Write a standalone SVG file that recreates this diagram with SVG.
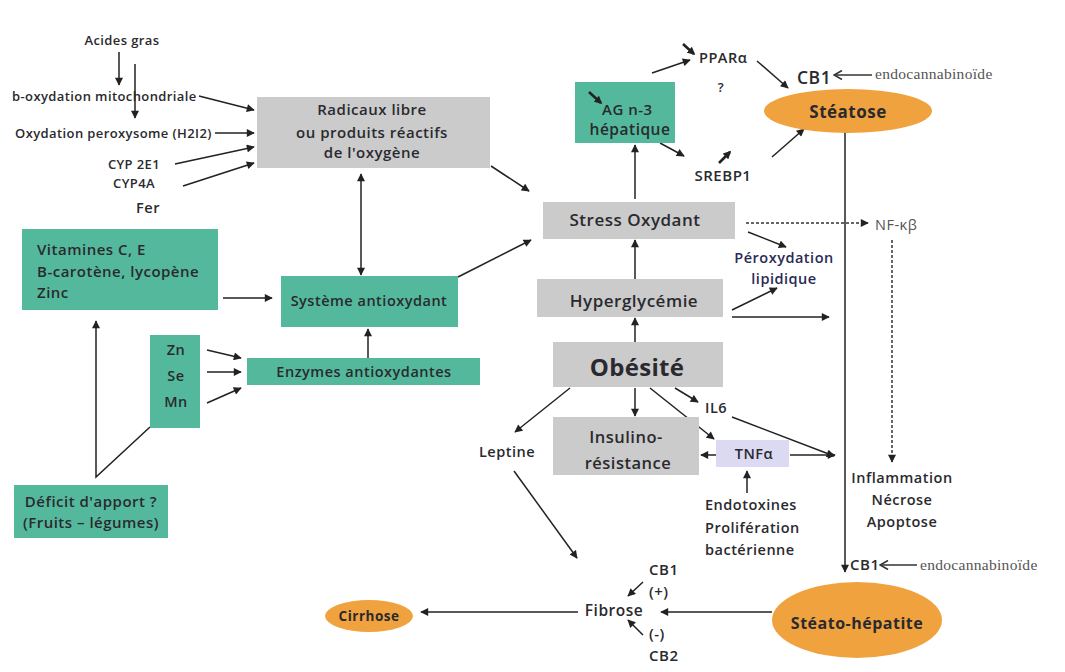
<svg xmlns="http://www.w3.org/2000/svg" width="1065" height="672" viewBox="0 0 1065 672">
<defs>
<marker id="ah" viewBox="0 0 10 10" refX="9" refY="5" markerWidth="9" markerHeight="8" markerUnits="userSpaceOnUse" orient="auto">
<path d="M0,0 L10,5 L0,10 Z" fill="#222"/>
</marker>
<marker id="ahs" viewBox="0 0 10 10" refX="9" refY="5" markerWidth="9" markerHeight="8" markerUnits="userSpaceOnUse" orient="auto-start-reverse">
<path d="M0,0 L10,5 L0,10 Z" fill="#222"/>
</marker>
<marker id="aho" viewBox="0 0 10 10" refX="9" refY="5" markerWidth="10" markerHeight="10" markerUnits="userSpaceOnUse" orient="auto">
<path d="M1,0.5 L9,5 L1,9.5" fill="none" stroke="#333" stroke-width="1.6"/>
</marker>
<marker id="ahb" viewBox="0 0 10 10" refX="8" refY="5" markerWidth="8" markerHeight="8" markerUnits="userSpaceOnUse" orient="auto">
<path d="M0,0 L10,5 L0,10 Z" fill="#222"/>
</marker>
</defs>
<style>
text{font-family:"Open Sans","Liberation Sans",sans-serif;font-weight:600;font-size:14.5px;letter-spacing:0.5px;fill:#2a2a2e;}
.c{text-anchor:middle;}
.s{font-size:13px;letter-spacing:0.4px;}
.m{font-size:15px;}
.big{font-size:17px;}
.serif{font-family:"Liberation Serif","DejaVu Serif",serif;font-weight:400;font-size:15.5px;letter-spacing:0.3px;fill:#555;}
.teal{fill:#54b99c;}
.gray{fill:#cbcbcc;}
.orange{fill:#f0a23f;}
.lav{fill:#dcd9f3;}
.ln{stroke:#222;stroke-width:1.5;fill:none;marker-end:url(#ah);}
.pl{stroke:#333;stroke-width:1.5;fill:none;}
.dash{stroke:#333;stroke-width:1.5;fill:none;stroke-dasharray:3,2;marker-end:url(#ah);}
.sym{stroke:#222;stroke-width:2.6;fill:none;marker-end:url(#ahb);}
</style>
<rect width="1065" height="672" fill="#ffffff"/>

<g id="connectors">
<line class="ln" x1="119" y1="52" x2="119" y2="85"/>
<line class="ln" x1="135" y1="64" x2="135" y2="118"/>
<line class="ln" x1="199" y1="96" x2="254" y2="110"/>
<line class="ln" x1="215" y1="133" x2="254" y2="133"/>
<line class="ln" x1="175" y1="164" x2="254" y2="147"/>
<line class="ln" x1="183" y1="186" x2="254" y2="163"/>
<line class="ln" x1="491" y1="166" x2="529" y2="191"/>
<line class="ln" x1="361" y1="174" x2="361" y2="275" style="marker-start:url(#ahs)"/>
<line class="ln" x1="223" y1="298" x2="272" y2="298"/>
<line class="ln" x1="458" y1="277" x2="531" y2="240"/>
<line class="ln" x1="368" y1="358" x2="368" y2="329"/>
<line class="ln" x1="207" y1="350" x2="241" y2="358"/>
<line class="ln" x1="207" y1="372" x2="241" y2="372"/>
<line class="ln" x1="207" y1="403" x2="241" y2="388"/>
<polyline class="ln" points="150,427 96,477 96,321"/>
<line class="ln" x1="635" y1="199" x2="635" y2="145"/>
<line class="ln" x1="652" y1="73" x2="690" y2="60"/>
<line class="ln" x1="757" y1="61" x2="788" y2="88"/>
<line class="pl" x1="872" y1="75" x2="834" y2="75" style="marker-end:url(#aho)"/>
<line class="ln" x1="660" y1="143" x2="684" y2="156"/>
<line class="ln" x1="772" y1="157" x2="804" y2="129"/>
<line class="ln" x1="845" y1="132" x2="845" y2="572"/>
<line class="dash" x1="746" y1="223" x2="868" y2="223"/>
<line class="ln" x1="748" y1="232" x2="786" y2="247"/>
<line class="ln" x1="732" y1="310" x2="777" y2="288"/>
<line class="ln" x1="732" y1="317" x2="829" y2="317"/>
<line class="dash" x1="892" y1="240" x2="892" y2="462"/>
<line class="ln" x1="635" y1="279" x2="635" y2="240"/>
<line class="ln" x1="635" y1="342" x2="635" y2="318"/>
<line class="ln" x1="635" y1="388" x2="635" y2="416"/>
<line class="ln" x1="570" y1="388" x2="515" y2="432"/>
<line class="ln" x1="650" y1="388" x2="714" y2="439"/>
<line class="ln" x1="675" y1="388" x2="698" y2="402"/>
<line class="ln" x1="732" y1="417" x2="834" y2="456"/>
<line class="ln" x1="716" y1="455" x2="701" y2="455"/>
<line class="ln" x1="790" y1="455" x2="835" y2="455"/>
<line class="ln" x1="747" y1="493" x2="747" y2="471"/>
<line class="ln" x1="514" y1="471" x2="577" y2="558"/>
<line class="ln" x1="772" y1="612" x2="661" y2="612"/>
<line class="ln" x1="578" y1="612" x2="421" y2="612"/>
<line class="ln" x1="643" y1="582" x2="628" y2="596"/>
<line class="ln" x1="643" y1="635" x2="628" y2="620"/>
<line class="pl" x1="917" y1="565" x2="880" y2="565" style="marker-end:url(#aho)"/>
</g>

<g id="acides-gras"><text class="c s" x="122" y="44.5">Acides gras</text></g>
<g id="b-oxydation"><text class="s" x="12" y="100.5">b-oxydation mitochondriale</text></g>
<g id="oxydation-peroxysome"><text class="s" x="15" y="137.5">Oxydation peroxysome (H2I2)</text></g>
<g id="cyp"><text class="c s" x="134" y="168.5">CYP 2E1</text><text class="c s" x="134" y="187.5">CYP4A</text></g>
<g id="fer"><text class="c" x="148" y="213">Fer</text></g>

<g id="radicaux">
<rect class="gray" x="257" y="97" width="233" height="71"/>
<text class="c m" x="372" y="115">Radicaux libre</text>
<text class="c m" x="372" y="138">ou produits réactifs</text>
<text class="c m" x="372" y="158">de l'oxygène</text>
</g>

<g id="vitamines">
<rect class="teal" x="22" y="229" width="196" height="81"/>
<text class="m" x="37" y="255">Vitamines C, E</text>
<text class="m" x="37" y="277">B-carotène, lycopène</text>
<text class="m" x="37" y="298">Zinc</text>
</g>

<g id="systeme">
<rect class="teal" x="281" y="276" width="177" height="51"/>
<text class="c" x="369" y="306">Système antioxydant</text>
</g>

<g id="enzymes">
<rect class="teal" x="247" y="358" width="233" height="27"/>
<text class="c" x="364" y="377">Enzymes antioxydantes</text>
</g>

<g id="oligo">
<rect class="teal" x="150" y="335" width="50" height="93"/>
<text class="c" x="176" y="355">Zn</text>
<text class="c" x="176" y="381">Se</text>
<text class="c" x="176" y="407">Mn</text>
</g>

<g id="deficit">
<rect class="teal" x="14" y="485" width="154" height="53"/>
<text class="c m" x="91" y="507">Déficit d'apport ?</text>
<text class="c m" x="91" y="528">(Fruits – légumes)</text>
</g>

<g id="ag-n3">
<rect class="teal" x="575" y="82" width="100" height="61"/>
<line class="sym" x1="589" y1="92" x2="601" y2="103"/>
<text class="m" x="602" y="115">AG n-3</text>
<text class="c" x="630" y="135" style="font-size:15.5px">hépatique</text>
</g>

<g id="ppar">
<line class="sym" x1="683" y1="44" x2="694" y2="54"/>
<text x="699" y="63">PPARα</text>
</g>
<g id="question"><text class="c s" x="721" y="92">?</text></g>
<g id="srebp1">
<line class="sym" x1="719" y1="163" x2="730" y2="152"/>
<text class="c m" x="723" y="181">SREBP1</text>
</g>

<g id="cb1-top"><text x="797" y="84" style="font-size:17.5px">CB1</text></g>
<g id="endocannabinoide-top"><text class="serif" x="875" y="79">endocannabinoïde</text></g>

<g id="steatose">
<ellipse class="orange" cx="848" cy="111" rx="84" ry="22"/>
<text class="c" x="848" y="118" style="font-size:17px;font-weight:700">Stéatose</text>
</g>

<g id="stress">
<rect class="gray" x="543" y="202" width="192" height="37"/>
<text class="c big" x="635" y="226">Stress Oxydant</text>
</g>

<g id="nfkb"><text x="875" y="230" style="font-weight:400;fill:#555">NF-κβ</text></g>

<g id="peroxydation">
<text class="c" x="784" y="263" style="fill:#2a2a55">Péroxydation</text>
<text class="c" x="784" y="284" style="fill:#2a2a55">lipidique</text>
</g>

<g id="hyperglycemie">
<rect class="gray" x="537" y="279" width="186" height="38"/>
<text class="c big" x="634" y="307">Hyperglycémie</text>
</g>

<g id="obesite">
<rect class="gray" x="553" y="342" width="170" height="45"/>
<text class="c" x="637" y="376" style="font-size:24px;font-weight:700;letter-spacing:0.3px">Obésité</text>
</g>

<g id="insulino">
<rect class="gray" x="553" y="417" width="146" height="58"/>
<text class="c" x="626" y="443" style="font-size:16.5px">Insulino-</text>
<text class="c" x="628" y="469" style="font-size:16.5px">résistance</text>
</g>

<g id="tnf">
<rect class="lav" x="716" y="440" width="73" height="27"/>
<text class="c" x="754" y="459">TNFα</text>
</g>

<g id="il6"><text x="705" y="413">IL6</text></g>
<g id="leptine"><text class="c" x="507" y="457">Leptine</text></g>

<g id="endotoxines">
<text x="705" y="510">Endotoxines</text>
<text x="705" y="533">Prolifération</text>
<text x="705" y="555">bactérienne</text>
</g>

<g id="inflammation">
<text class="c" x="902" y="483">Inflammation</text>
<text class="c" x="902" y="505">Nécrose</text>
<text class="c" x="902" y="527">Apoptose</text>
</g>

<g id="cb1-bottom"><text x="850" y="570" style="font-size:15px">CB1</text></g>
<g id="endocannabinoide-bottom"><text class="serif" x="920" y="570">endocannabinoïde</text></g>

<g id="steato-hepatite">
<ellipse class="orange" cx="857" cy="620" rx="85" ry="38"/>
<text class="c" x="857" y="629" style="font-size:16px;font-weight:700">Stéato-hépatite</text>
</g>

<g id="fibrose">
<text class="c" x="614" y="616" style="font-size:15.5px">Fibrose</text>
<text x="649" y="575" style="font-size:15px">CB1</text>
<text x="649" y="597" style="font-size:15px">(+)</text>
<text x="649" y="639" style="font-size:15px">(-)</text>
<text x="649" y="661" style="font-size:15px">CB2</text>
</g>

<g id="cirrhose">
<ellipse class="orange" cx="369" cy="616" rx="44" ry="16"/>
<text class="c" x="369" y="621" style="font-size:13.5px;font-weight:700">Cirrhose</text>
</g>
</svg>
